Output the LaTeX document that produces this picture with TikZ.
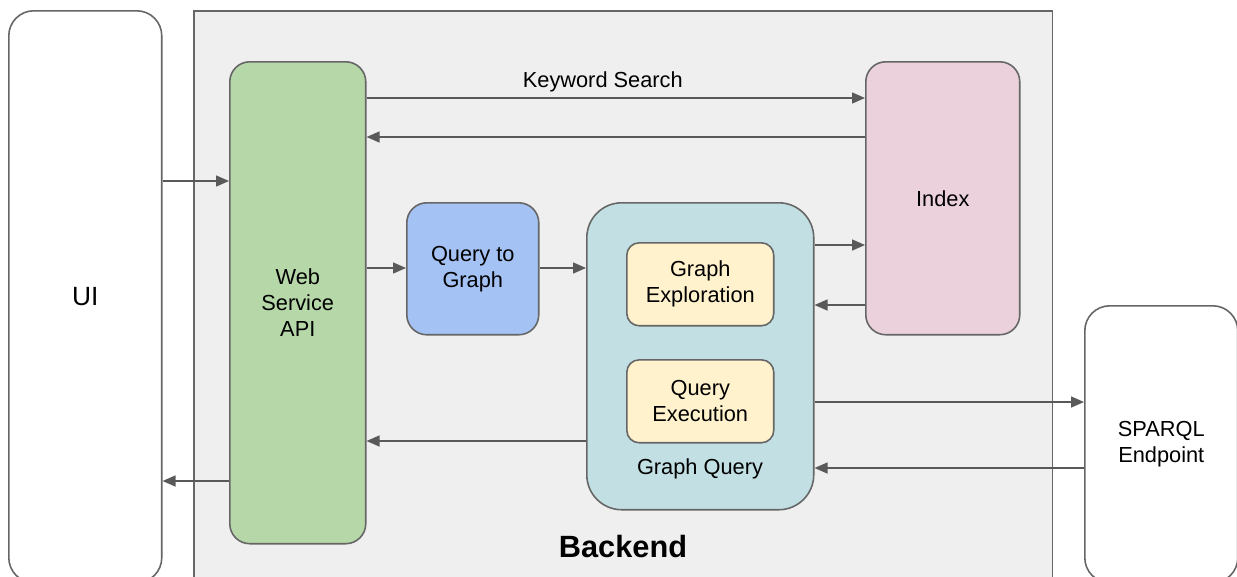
\documentclass[tikz,border=0pt]{standalone}
\usepackage{fontspec}
\setmainfont{Liberation Sans}
\definecolor{edgegray}{RGB}{102,102,102}
\definecolor{arrowgray}{RGB}{89,89,89}
\definecolor{backfill}{RGB}{239,239,239}
\definecolor{apigreen}{RGB}{182,215,168}
\definecolor{qtgblue}{RGB}{164,194,244}
\definecolor{gqteal}{RGB}{194,223,228}
\definecolor{indexpink}{RGB}{234,209,220}
\definecolor{subyellow}{RGB}{255,242,204}
\usetikzlibrary{positioning, arrows.meta}

\begin{document}
\begin{tikzpicture}[x=0.02cm, y=-0.02cm,
  box/.style={draw=edgegray, line width=0.9pt, rounded corners=0.4cm,
    align=center, anchor=north west, inner sep=0pt, font=\fontsize{12.4}{14.8}\selectfont},
  subbox/.style={box, fill=subyellow, rounded corners=0.25cm,
    minimum width=2.94cm, minimum height=1.66cm},
  arr/.style={-{Triangle[length=2.6mm, width=2.2mm]}, draw=arrowgray,
    line width=0.85pt},
]
\useasboundingbox (0,0) rectangle (1237,576);

% Outer frames
\node[draw=edgegray, line width=0.9pt, fill=backfill, anchor=north west,
  minimum width=17.18cm, minimum height=11.5cm, inner sep=0pt] (backend) at (193,10) {};
\node[box, fill=white, rounded corners=0.5cm, minimum width=3.06cm,
  minimum height=11.44cm, font=\fontsize{15}{18}\selectfont] (ui) at (8,10) {UI};
\node[box, fill=white, rounded corners=0.5cm, minimum width=3.06cm,
  minimum height=5.54cm] (sparql) at (1084,305) {SPARQL\\Endpoint};
\node[font=\fontsize{17.5}{21}\selectfont\bfseries] (backlabel) at (623,546) {Backend};

% Components
\node[box, fill=apigreen, minimum width=2.72cm, minimum height=9.64cm] (api)
  at (229,61) {Web\\Service\\API};
\node[box, fill=indexpink, minimum width=3.08cm, minimum height=5.46cm] (index)
  at (865,61) {Index};
\node[box, fill=qtgblue, minimum width=2.64cm, minimum height=2.64cm] (qtg)
  at (406,202) {Query to\\Graph};
\node[box, fill=gqteal, rounded corners=0.7cm, minimum width=4.54cm,
  minimum height=6.14cm] (gq) at (586,202) {};
\node[subbox] (explore) at (626,242) {Graph\\Exploration};
\node[subbox] (exec) at (626,359) {Query\\Execution};
\node[font=\fontsize{12.4}{14.8}\selectfont] (gqlabel) at (700,469) {Graph Query};

% Connectors
\draw[arr] (ui.east |- 0,181) -- (api.west |- 0,181);
\draw[arr] (api.west |- 0,481) -- (ui.east |- 0,481);
\draw[arr] (api.east |- 0,98) -- node[above=-0.6pt, xshift=-0.26cm,
  font=\fontsize{12.4}{14.8}\selectfont] (kslabel) {Keyword Search} (index.west |- 0,98);
\draw[arr] (index.west |- 0,137) -- (api.east |- 0,137);
\draw[arr] (api.east |- 0,268) -- (qtg.west |- 0,268);
\draw[arr] (qtg.east |- 0,268) -- (gq.west |- 0,268);
\draw[arr] (gq.east |- 0,245) -- (index.west |- 0,245);
\draw[arr] (index.west |- 0,305) -- (gq.east |- 0,305);
\draw[arr] (gq.west |- 0,441) -- (api.east |- 0,441);
\draw[arr] (gq.east |- 0,402) -- (sparql.west |- 0,402);
\draw[arr] (sparql.west |- 0,468) -- (gq.east |- 0,468);
\end{tikzpicture}
\end{document}
